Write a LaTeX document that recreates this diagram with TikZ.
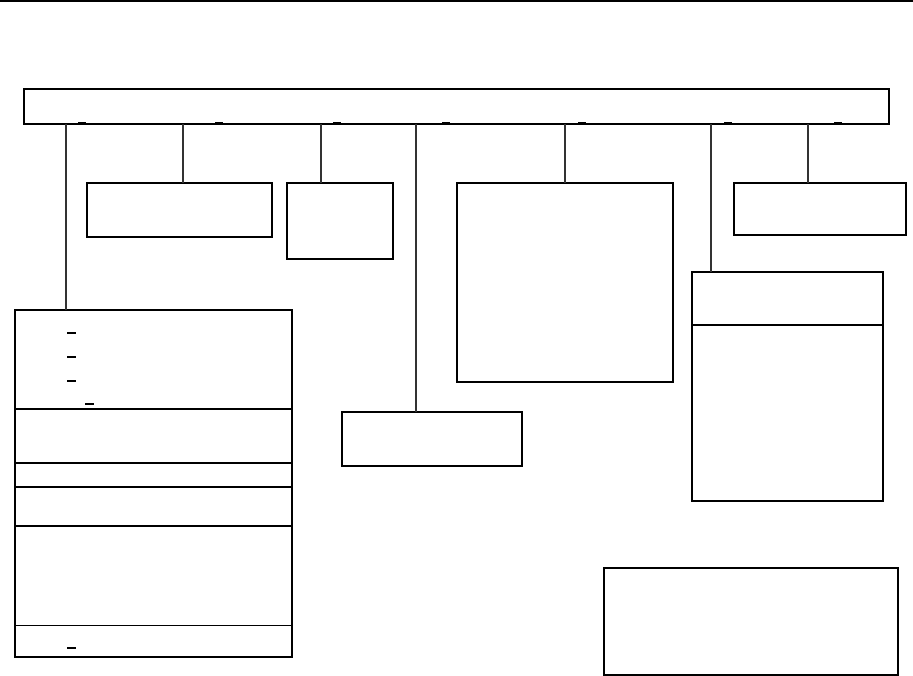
\documentclass[tikz,border=0pt]{standalone}
\begin{document}
\begin{tikzpicture}[x=1pt,y=-1pt,
  box/.style={draw=black,line width=1.6pt,rectangle,inner sep=0pt,outer sep=0pt,anchor=north west,fill=none},
  conn/.style={draw=black!80,line width=1.1pt},
  divider/.style={draw=black,line width=1.6pt},
  thindiv/.style={draw=black,line width=1pt},
  tick/.style={draw=black,line width=1.4pt}]
\useasboundingbox (0,0) rectangle (913,676);
% top rule
\coordinate (tl) at (0,1);
\coordinate (tr) at (913,1);
\draw[line width=1.6pt] (tl) -- (tr);
% main bar
\node[box,minimum width=865pt,minimum height=35pt] (bar) at (24,89) {};
% ticks on bar bottom
\foreach \x [count=\i] in {82,219,337,446,582,728,838}{
  \coordinate (ta\i) at (\x-4,122.5);
  \coordinate (tb\i) at (\x+4,122.5);
  \draw[tick] (ta\i) -- (tb\i);
}
% boxes
\node[box,minimum width=185pt,minimum height=54pt] (b1) at (87,183) {};
\node[box,minimum width=106pt,minimum height=76pt] (b2) at (287,183) {};
\node[box,minimum width=216pt,minimum height=199pt] (b3) at (457,183) {};
\node[box,minimum width=172pt,minimum height=52pt] (b4) at (734,183) {};
\node[box,minimum width=180pt,minimum height=54pt] (b5) at (342,412) {};
\node[box,minimum width=191pt,minimum height=53pt] (b6) at (692,272) {};
\node[box,minimum width=191pt,minimum height=176pt] (b7) at (692,325) {};
\node[box,minimum width=294pt,minimum height=107pt] (b8) at (604,568) {};
\node[box,minimum width=277pt,minimum height=347pt] (L) at (15,310) {};
% left column dividers
\foreach \y in {409,463,487,526}{
  \draw[divider] (L.west |- 0,\y) -- (L.east |- 0,\y);
}
\draw[thindiv] (L.west |- 0,625) -- (L.east |- 0,625);
% small marks inside left column
\foreach \y [count=\i] in {333,357,381,648}{
  \coordinate (ma\i) at (67,\y);
  \coordinate (mb\i) at (76,\y);
  \draw[tick] (ma\i) -- (mb\i);
}
\coordinate (ma5) at (85,404);
\coordinate (mb5) at (94,404);
\draw[tick] (ma5) -- (mb5);
% connectors from bar
\coordinate (c1) at (66,124);
\coordinate (c2) at (183,124);
\coordinate (c3) at (321,124);
\coordinate (c4) at (416,124);
\coordinate (c5) at (565,124);
\coordinate (c6) at (711,124);
\coordinate (c7) at (808,124);
\draw[conn] (c1) -- (c1 |- L.north);
\draw[conn] (c2) -- (c2 |- b1.north);
\draw[conn] (c3) -- (c3 |- b2.north);
\draw[conn] (c4) -- (c4 |- b5.north);
\draw[conn] (c5) -- (c5 |- b3.north);
\draw[conn] (c6) -- (c6 |- b6.north);
\draw[conn] (c7) -- (c7 |- b4.north);
\end{tikzpicture}
\end{document}
